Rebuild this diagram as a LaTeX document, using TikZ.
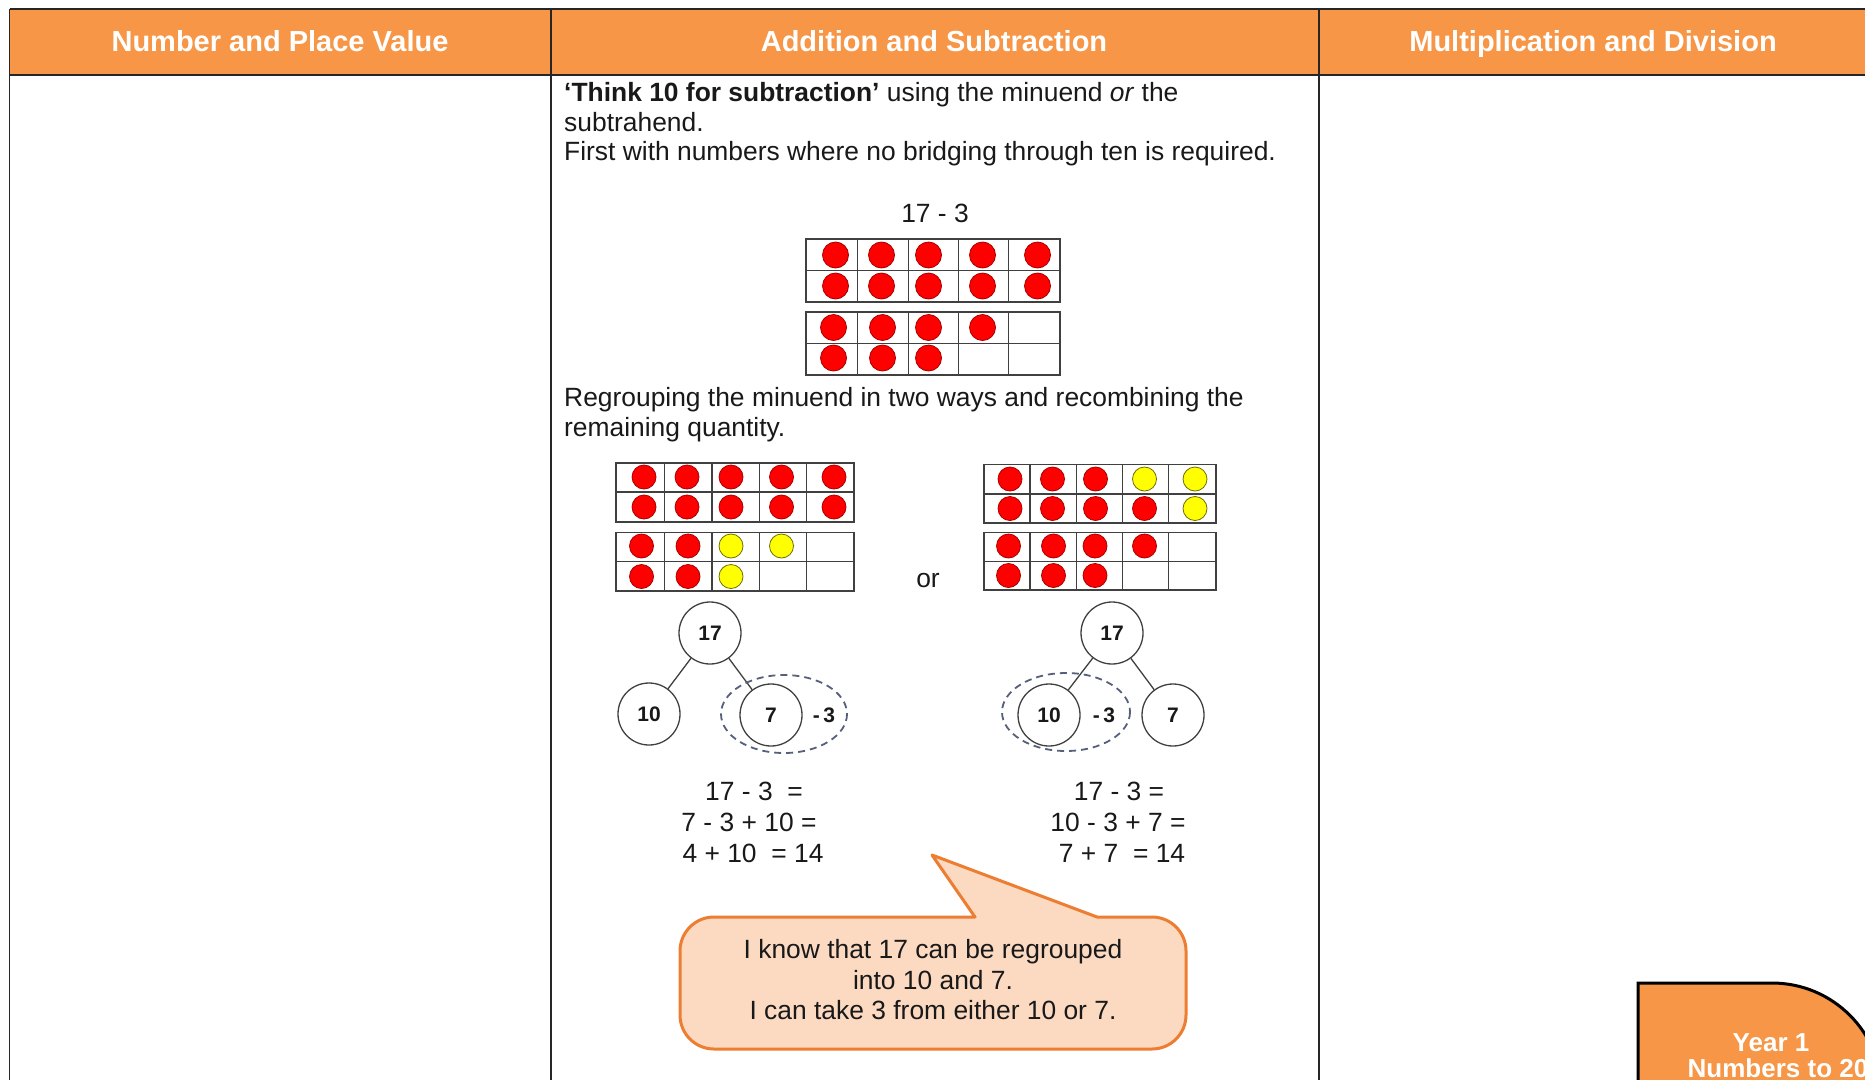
\documentclass[tikz,border=0pt]{standalone}
\usepackage{fontspec}
\setmainfont{Liberation Sans}
\usepackage{xcolor}
\usepackage{tikz}
\usetikzlibrary{calc}

\definecolor{hdrorange}{HTML}{F79646}
\definecolor{bubblefill}{HTML}{FCDAC2}
\definecolor{bubbleline}{HTML}{ED7D31}
\definecolor{dotred}{HTML}{FF0000}
\definecolor{dotredline}{HTML}{A80000}
\definecolor{dotyellow}{HTML}{FFFF00}
\definecolor{dotyellowline}{HTML}{6E6E00}
\definecolor{ringgrey}{HTML}{56607A}

\begin{document}
\begin{tikzpicture}[x=1pt,y=-1pt,every node/.style={font=\fontsize{26.4}{30}\selectfont,text=black!90,inner sep=0pt},
  hdrtext/.style={font=\fontsize{29}{32}\selectfont\bfseries,text=white},
  tabline/.style={black!85,line width=1.6pt},
  tenframe/.style={black!75,line width=1.4pt},
  reddot/.style={fill=dotred,draw=dotredline,line width=.8pt},
  yeldot/.style={fill=dotyellow,draw=dotyellowline,line width=.8pt},
  bond/.style={circle,draw=black!75,line width=1.3pt,fill=white,minimum size=62pt,font=\fontsize{21}{24}\selectfont\bfseries},
  takeaway/.style={font=\fontsize{21}{24}\selectfont\bfseries},
  link/.style={black!75,line width=1.3pt},
  ring/.style={ringgrey,dashed,dash pattern=on 7pt off 5pt,line width=1.8pt},
  bubble/.style={fill=bubblefill,draw=bubbleline,line width=3pt,line join=round}]
\useasboundingbox (0,0) rectangle (1865,1079);
\clip (0,0) rectangle (1865,1079);
\fill[white] (0,0) rectangle (1865,1079);
% header row
\fill[hdrorange] (9.5,9) rectangle (1875,75);
\draw[tabline] (9.5,9)--(1875,9);
\draw[tabline] (9.5,75)--(1875,75);
\draw[tabline] (9.5,9)--(9.5,1090);
\draw[tabline] (551,9)--(551,1090);
\draw[tabline] (1319,9)--(1319,1090);
\node[hdrtext,anchor=base] (hplace) at (280,51) {Number and Place Value};
\node[hdrtext,anchor=base] (haddsub) at (934,51) {Addition and Subtraction};
\node[hdrtext,anchor=base] (hmuldiv) at (1593,51) {Multiplication and Division};
% opening text
\node[anchor=base west] (think1) at (564,101) {\textbf{‘Think 10 for subtraction’} using the minuend \textit{or} the};
\node[anchor=base west] (think2) at (564,131) {subtrahend.};
\node[anchor=base west] (think3) at (564,160) {First with numbers where no bridging through ten is required.};
\node[anchor=base] (sumtop) at (935,222) {17 - 3};
% ten frames, 17
\draw[tenframe] (806,239) rectangle (1060,302);
\draw[tenframe] (806,270.5)--(1060,270.5);
\draw[tenframe] (857.5,239)--(857.5,302);
\draw[tenframe] (908.5,239)--(908.5,302);
\draw[tenframe] (958.5,239)--(958.5,302);
\draw[tenframe] (1008.5,239)--(1008.5,302);
\draw[tenframe] (806,312) rectangle (1060,375);
\draw[tenframe] (806,343.5)--(1060,343.5);
\draw[tenframe] (857.5,312)--(857.5,375);
\draw[tenframe] (908.5,312)--(908.5,375);
\draw[tenframe] (958.5,312)--(958.5,375);
\draw[tenframe] (1008.5,312)--(1008.5,375);
\filldraw[reddot] (835.5,255) circle (13);
\filldraw[reddot] (881.5,255) circle (13);
\filldraw[reddot] (928.5,255) circle (13);
\filldraw[reddot] (982.5,255) circle (13);
\filldraw[reddot] (1037.5,255) circle (13);
\filldraw[reddot] (835.5,286) circle (13);
\filldraw[reddot] (881.5,286) circle (13);
\filldraw[reddot] (928.5,286) circle (13);
\filldraw[reddot] (982.5,286) circle (13);
\filldraw[reddot] (1037.5,286) circle (13);
\filldraw[reddot] (833.5,327.5) circle (13);
\filldraw[reddot] (882.5,327.5) circle (13);
\filldraw[reddot] (928.5,327.5) circle (13);
\filldraw[reddot] (982.5,327.5) circle (13);
\filldraw[reddot] (833.5,358) circle (13);
\filldraw[reddot] (882.5,358) circle (13);
\filldraw[reddot] (928.5,358) circle (13);
\node[anchor=base west] (regroup1) at (564,406) {Regrouping the minuend in two ways and recombining the};
\node[anchor=base west] (regroup2) at (564,436) {remaining quantity.};
% left way: take 3 from 7
\draw[tenframe] (616,463) rectangle (854,522);
\draw[tenframe] (616,492)--(854,492);
\draw[tenframe] (664.5,463)--(664.5,522);
\draw[tenframe] (712,463)--(712,522);
\draw[tenframe] (759.5,463)--(759.5,522);
\draw[tenframe] (806.5,463)--(806.5,522);
\draw[tenframe] (616,532.5) rectangle (854,591);
\draw[tenframe] (616,561.5)--(854,561.5);
\draw[tenframe] (664.5,532.5)--(664.5,591);
\draw[tenframe] (712,532.5)--(712,591);
\draw[tenframe] (759.5,532.5)--(759.5,591);
\draw[tenframe] (806.5,532.5)--(806.5,591);
\filldraw[reddot] (644,477) circle (12);
\filldraw[reddot] (687,477) circle (12);
\filldraw[reddot] (731,477) circle (12);
\filldraw[reddot] (781.5,477) circle (12);
\filldraw[reddot] (834,477) circle (12);
\filldraw[reddot] (644,507) circle (12);
\filldraw[reddot] (687,507) circle (12);
\filldraw[reddot] (731,507) circle (12);
\filldraw[reddot] (781.5,507) circle (12);
\filldraw[reddot] (834,507) circle (12);
\filldraw[reddot] (641.5,546) circle (12);
\filldraw[reddot] (688,546) circle (12);
\filldraw[yeldot] (731,546) circle (12);
\filldraw[yeldot] (781.5,546) circle (12);
\filldraw[reddot] (641.5,576.5) circle (12);
\filldraw[reddot] (688,576.5) circle (12);
\filldraw[yeldot] (731,576.5) circle (12);
\node[anchor=base] (orword) at (928,587) {or};
% right way: take 3 from 10
\draw[tenframe] (984,464.5) rectangle (1216,523);
\draw[tenframe] (984,494)--(1216,494);
\draw[tenframe] (1030,464.5)--(1030,523);
\draw[tenframe] (1076.5,464.5)--(1076.5,523);
\draw[tenframe] (1122.5,464.5)--(1122.5,523);
\draw[tenframe] (1168.5,464.5)--(1168.5,523);
\draw[tenframe] (984,532.5) rectangle (1216,590);
\draw[tenframe] (984,561.5)--(1216,561.5);
\draw[tenframe] (1030,532.5)--(1030,590);
\draw[tenframe] (1076.5,532.5)--(1076.5,590);
\draw[tenframe] (1122.5,532.5)--(1122.5,590);
\draw[tenframe] (1168.5,532.5)--(1168.5,590);
\filldraw[reddot] (1010,479) circle (12);
\filldraw[reddot] (1052.5,479) circle (12);
\filldraw[reddot] (1095.5,479) circle (12);
\filldraw[yeldot] (1144.5,479) circle (12);
\filldraw[yeldot] (1195,479) circle (12);
\filldraw[reddot] (1010,508.5) circle (12);
\filldraw[reddot] (1052.5,508.5) circle (12);
\filldraw[reddot] (1095.5,508.5) circle (12);
\filldraw[reddot] (1144.5,508.5) circle (12);
\filldraw[yeldot] (1195,508.5) circle (12);
\filldraw[reddot] (1008.5,546) circle (12);
\filldraw[reddot] (1053.5,546) circle (12);
\filldraw[reddot] (1095,546) circle (12);
\filldraw[reddot] (1144.5,546) circle (12);
\filldraw[reddot] (1008.5,575.5) circle (12);
\filldraw[reddot] (1053.5,575.5) circle (12);
\filldraw[reddot] (1095,575.5) circle (12);
% part-whole models
\node[bond] (wholeL) at (710,633) {17};
\node[bond] (tenL) at (649,714) {10};
\node[bond] (sevenL) at (771,715) {7};
\node[takeaway] (takeL) at (824,715) {-\,3};
\draw[link] (wholeL)--(tenL);
\draw[link] (wholeL)--(sevenL);
\draw[ring] (784,714) ellipse [x radius=63,y radius=39];
\node[bond] (wholeR) at (1112,633) {17};
\node[bond] (tenR) at (1049,715) {10};
\node[bond] (sevenR) at (1173,715) {7};
\node[takeaway] (takeR) at (1104,715) {-\,3};
\draw[link] (wholeR)--(tenR);
\draw[link] (wholeR)--(sevenR);
\draw[ring] (1066,712) ellipse [x radius=64,y radius=39];
% working
\node[anchor=base] (eqL1) at (754,800) {17 - 3 \ =};
\node[anchor=base] (eqL2) at (749,831) {7 - 3 + 10 =};
\node[anchor=base] (eqL3) at (753,862) {4 + 10 \ = 14};
\node[anchor=base] (eqR1) at (1119,800) {17 - 3 =};
\node[anchor=base] (eqR2) at (1118,831) {10 - 3 + 7 =};
\node[anchor=base] (eqR3) at (1122,862) {7 + 7 \ = 14};
% speech bubble
\filldraw[bubble] (680,983) [rounded corners=34pt]--(680,917) [sharp corners]--(975,917)--(932,855)--(1097,917) [rounded corners=34pt]--(1186,917)--(1186,1049)--(680,1049)--cycle;
\node[anchor=base] (say1) at (933,958) {I know that 17 can be regrouped};
\node[anchor=base] (say2) at (933,989) {into 10 and 7.};
\node[anchor=base] (say3) at (933,1019) {I can take 3 from either 10 or 7.};
% year tab
\filldraw[fill=hdrorange,draw=black,line width=3pt] (1638,1095)--(1638,983)--(1772,983) arc[start angle=-90,end angle=0,radius=110]--(1882,1095);
\node[hdrtext,font=\fontsize{26}{30}\selectfont\bfseries,anchor=base] (tab1) at (1771,1051) {Year 1};
\node[hdrtext,font=\fontsize{26}{30}\selectfont\bfseries,anchor=base] (tab2) at (1778,1077) {Numbers to 20};
\end{tikzpicture}
\end{document}
